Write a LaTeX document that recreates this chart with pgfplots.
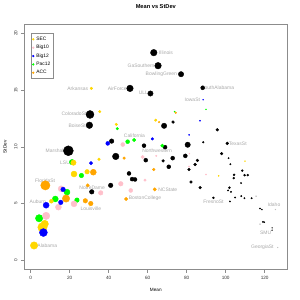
\documentclass[border=0pt]{standalone}
\usepackage{fontspec}
\setmainfont{Liberation Sans}
\usepackage{pgfplots}
\usepackage{pgfplotstable}
\pgfplotsset{compat=1.18}
\definecolor{rgold}{HTML}{FFD700}
\definecolor{rpink}{HTML}{FFC0CB}
\definecolor{rblue}{HTML}{0000FF}
\definecolor{rgreen}{HTML}{00FF00}
\definecolor{rorange}{HTML}{FFA500}
\definecolor{lblgray}{HTML}{A8A8A8}
\definecolor{boxgray}{HTML}{8C8C8C}

\pgfplotstableread{
x y r
63.1 18.3 3.3
65.3 17.15 3.3
77.1 16.4 2.7
88.2 15.2 2.0
50.9 15.15 3.3
61.4 14.7 2.7
30.4 12.85 4.0
30.1 11.9 3.3
19.3 9.65 5.0
41.5 10.5 2.3
43.6 9.15 3.3
68.4 11.85 2.7
73.0 12.18 1.4
58.1 10.1 2.0
68.9 9.97 2.0
80.5 10.18 2.7
59.0 8.82 2.0
67.9 8.76 1.4
72.8 9.0 2.0
70.8 8.24 2.0
79.3 9.2 2.0
81.2 8.0 1.4
84.3 8.44 1.4
85.5 8.8 1.4
50.4 7.65 2.0
52.0 7.15 2.0
53.5 7.12 2.0
41.0 6.6 2.3
31.3 6.03 2.3
82.2 6.9 1.4
86.9 6.4 1.4
95.7 11.5 1.4
100.8 10.3 1.4
88.5 10.4 0.8
97.9 9.4 1.4
101.5 9.0 0.7
102.4 8.47 0.7
104.3 7.53 1.0
104.1 7.24 1.0
108.5 7.9 1.0
109.7 7.5 1.0
111.3 7.5 1.0
107.9 6.8 0.7
101.9 6.4 1.0
101.2 6.15 0.7
102.7 6.03 0.7
93.7 5.5 1.0
104.8 5.53 0.7
102.2 5.18 0.7
108.0 5.65 0.7
109.6 5.47 0.7
113.3 5.47 0.7
117.6 4.56 0.7
118.6 4.47 0.5
119.1 3.38 0.7
119.8 3.35 0.5
123.8 2.85 0.4
123.8 2.65 0.4
}\othertbl

\pgfplotstableread{
x y r
117.6 3.18 0.5
115.6 5.65 0.5
126.7 1.12 0.4
125.5 4.47 0.4
}\lighttbl

\pgfplotstableread{
x y r
31.1 15.15 1.3
35.4 13.1 1.3
43.9 11.97 1.3
64.1 12.35 1.3
35.0 8.9 1.3
28.9 7.8 2.3
22.2 7.6 3.0
1.7 1.3 3.7
6.0 2.9 4.7
7.2 3.2 3.7
10.6 5.2 2.0
96.4 7.44 0.6
109.9 8.74 0.5
}\sectbl

\pgfplotstableread{
x y r
21.9 8.6 2.7
}\sectblb

\pgfplotstableread{
x y r
47.2 10.2 2.0
57.4 9.1 1.7
64.4 9.2 0.8
58.6 7.06 1.3
46.2 6.74 2.3
51.3 6.15 2.0
35.9 5.94 2.3
15.6 6.3 3.0
14.2 4.68 3.0
22.2 4.97 3.0
7.9 3.91 3.7
81.2 8.26 0.7
81.4 9.4 0.5
89.9 7.56 0.6
}\bigtentbl

\pgfplotstableread{
x y r
39.5 10.3 2.0
62.4 10.7 1.3
30.9 8.56 1.7
16.6 6.24 2.3
15.4 5.1 2.3
7.9 4.85 3.0
6.5 2.44 4.0
88.4 14.15 0.5
86.8 12.3 0.6
81.2 11.05 0.6
}\bigtwelvetbl

\pgfplotstableread{
x y r
44.4 11.6 1.3
49.7 10.45 2.0
53.0 10.6 1.7
67.5 10.1 1.7
26.0 7.47 2.3
18.6 6.0 3.0
23.7 5.3 2.3
12.6 5.4 3.0
4.3 3.7 3.7
21.2 8.65 2.7
89.9 13.3 0.5
73.8 13.1 0.6
}\pactbl

\pgfplotstableread{
x y r
74.4 13.0 0.8
65.8 12.18 0.8
47.9 9.0 1.3
63.1 8.0 1.3
32.1 7.76 3.0
29.2 6.6 1.7
7.5 6.6 4.7
18.1 5.44 3.7
28.0 5.24 2.3
30.8 5.0 2.3
48.9 5.4 1.7
63.6 6.24 1.7
}\acctbl

\pgfplotsset{
  bubble/.style={scatter, only marks, mark=*, color=#1,
    visualization depends on={\thisrow{r}\as\prad},
    scatter/@pre marker code/.style={/tikz/mark size=\prad},
    scatter/@post marker code/.style={}},
}

\begin{document}
\begin{tikzpicture}
\useasboundingbox (0,0) rectangle (300bp,300bp);
\begin{axis}[
  at={(24.3bp,30.7bp)}, anchor=south west,
  scale only axis, width=263bp, height=245bp,
  xmin=-3.3, xmax=131.6, ymin=-0.8, ymax=20.8,
  xtick={0,20,...,120}, ytick={0,5,...,20},
  tick align=outside, major tick length=3.3bp,
  axis line style={boxgray, line width=0.5bp},
  tick style={boxgray, line width=0.5bp},
  xtick pos=bottom, ytick pos=left,
  /pgf/number format/assume math mode=true,
  tick label style={font=\fontsize{4.7}{5}\selectfont, text=black!80},
  yticklabel style={rotate=90, anchor=south},
  title={Mean vs StDev},
  title style={font=\fontsize{5.7}{6}\selectfont\bfseries, at={(rel axis cs:0.5,1.0473)}, anchor=center},
  xlabel={Mean}, ylabel={StDev},
  xlabel style={font=\fontsize{4.7}{5}\selectfont, at={(rel axis cs:0.5,-0.0857)}, anchor=center},
  ylabel style={font=\fontsize{4.7}{5}\selectfont, at={(rel axis cs:-0.0734,0.5)}, anchor=center},
  legend style={at={(rel axis cs:0.0243,0.963)}, anchor=north west,
    draw=boxgray, line width=0.4bp, font=\fontsize{4.9}{5.7}\selectfont,
    inner sep=1.3pt, row sep=-0.6bp, cells={anchor=west}},
  legend image code/.code={\fill[#1] (2.2bp,0) circle (0.9bp);},
  clip=false,
]
\addlegendimage{rgold}\addlegendentry{SEC}
\addlegendimage{rpink}\addlegendentry{Big10}
\addlegendimage{rblue}\addlegendentry{Big12}
\addlegendimage{rgreen}\addlegendentry{Pac12}
\addlegendimage{rorange}\addlegendentry{ACC}

\addplot[bubble=black, forget plot] table {\othertbl};
\addplot[bubble=black!25, forget plot] table {\lighttbl};
\addplot[bubble=rgreen, forget plot] table {\pactbl};
\addplot[bubble=rgold, forget plot] table {\sectbl};
\addplot[bubble=rgold, forget plot] table {\sectblb};
\addplot[bubble=rorange, forget plot] table {\acctbl};
\addplot[bubble=rpink, forget plot] table {\bigtentbl};
\addplot[bubble=rblue, forget plot] table {\bigtwelvetbl};

\begin{scope}[every node/.style={font=\fontsize{5}{5}\selectfont, text=lblgray, inner sep=0pt}]
\node at (axis cs:69.4,18.3) {Illinois};
\node at (axis cs:56.6,17.15) {GaSouthern};
\node at (axis cs:67.0,16.38) {BowlingGreen};
\node at (axis cs:95.9,15.24) {SouthAlabama};
\node at (axis cs:24.1,15.15) {Arkansas};
\node at (axis cs:44.4,15.15) {AirForce};
\node at (axis cs:57.8,14.74) {ULL};
\node at (axis cs:82.9,14.18) {IowaSt};
\node at (axis cs:22.2,12.88) {ColoradoSt};
\node at (axis cs:23.8,11.88) {BoiseSt};
\node at (axis cs:53.2,10.97) {California};
\node at (axis cs:106.2,10.29) {TexasSt};
\node at (axis cs:12.5,9.65) {Marshall};
\node at (axis cs:64.8,9.62) {Northwestern};
\node at (axis cs:17.6,8.62) {LSU};
\node at (axis cs:7.4,6.97) {FloridaSt};
\node at (axis cs:31.5,6.41) {NotreDame};
\node at (axis cs:70.3,6.24) {NCState};
\node at (axis cs:3.6,5.18) {Auburn};
\node at (axis cs:58.6,5.44) {BostonCollege};
\node at (axis cs:93.7,5.12) {FresnoSt};
\node at (axis cs:30.8,4.56) {Louisville};
\node at (axis cs:124.8,4.85) {Idaho};
\node at (axis cs:120.5,2.41) {SMU};
\node at (axis cs:8.5,1.29) {Alabama};
\node at (axis cs:118.8,1.12) {GeorgiaSt};
\end{scope}
\end{axis}
\end{tikzpicture}
\end{document}
